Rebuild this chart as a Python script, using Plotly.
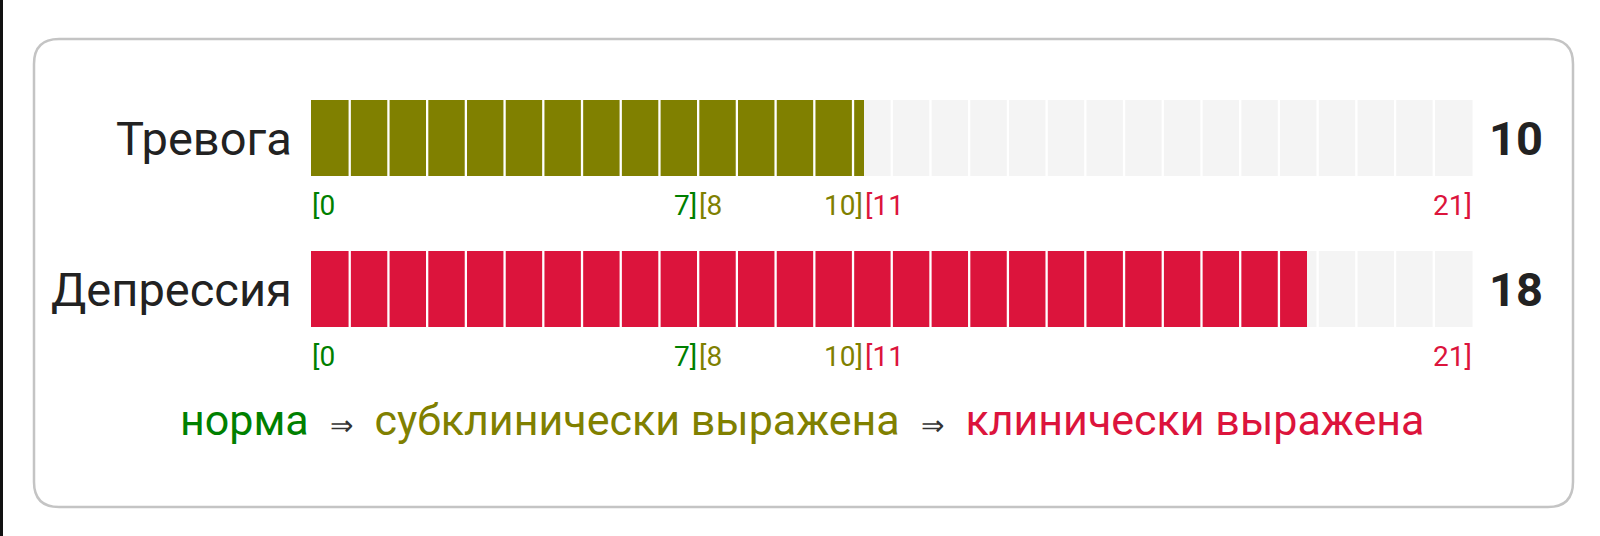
import plotly.graph_objects as go

# ---- data ----
categories = ["Тревога", "Депрессия"]
scores = [10, 18]
max_score = 21
n_cells = 30
bar_colors = ["#808000", "#DC143C"]

range_lo = [0, 8, 11]
range_hi = [7, 10, 21]
range_colors = ["#008000", "#808000", "#DC143C"]
legend_labels = ["норма", "субклинически выражена", "клинически выражена"]

# ---- layout constants (pixels) ----
W, H = 1600, 536
x0_px, x1_px = 311, 1472.5
row_px = [138, 289]
bar_px = 76
FONT = "Roboto"

unit = row_px[1] - row_px[0]
y_top = -row_px[0] / unit
y_bot = 1 + (H - row_px[1]) / unit
bw = bar_px / unit

fig = go.Figure()
rows = list(range(len(categories)))

# background track
fig.add_trace(go.Bar(
    y=rows, x=[max_score] * len(rows), base=0, orientation="h", width=bw,
    marker=dict(color="#f4f4f4", line=dict(width=0)), hoverinfo="skip", showlegend=False))
# filled score
fig.add_trace(go.Bar(
    y=rows, x=scores, base=0, orientation="h", width=bw,
    marker=dict(color=bar_colors, line=dict(width=0)), hoverinfo="skip", showlegend=False))

# cell separators
step = max_score / n_cells
sx, sy = [], []
for r in rows:
    for k in range(1, n_cells):
        sx += [k * step, k * step, None]
        sy += [r - bw / 2, r + bw / 2, None]
fig.add_trace(go.Scatter(x=sx, y=sy, mode="lines", line=dict(color="white", width=2.3),
                         hoverinfo="skip", showlegend=False))

ann = []
for r, (cat, sc) in enumerate(zip(categories, scores)):
    ann.append(dict(x=0, y=r, xref="x", yref="y", text=cat, showarrow=False,
                    xanchor="right", yanchor="middle", xshift=-17,
                    font=dict(family=FONT, size=47, color="#222222")))
    ann.append(dict(x=max_score, y=r, xref="x", yref="y", text=f"<b>{sc}</b>", showarrow=False,
                    xanchor="left", yanchor="middle", xshift=14,
                    font=dict(family=FONT, size=47, color="#222222")))
    prev = 0
    for lo, hi, col in zip(range_lo, range_hi, range_colors):
        ann.append(dict(x=prev, y=r, xref="x", yref="y", text=f"[{lo}", showarrow=False,
                        xanchor="left", yanchor="middle", yshift=-67, xshift=-1,
                        font=dict(family=FONT, size=28, color=col)))
        ann.append(dict(x=hi, y=r, xref="x", yref="y", text=f"{hi}]", showarrow=False,
                        xanchor="right", yanchor="middle", yshift=-67, xshift=1,
                        font=dict(family=FONT, size=28, color=col)))
        prev = hi

arrow = '\u00a0 <span style="font-size:28px;color:#333333">\u21d2</span>\u00a0 '
legend_text = arrow.join(
    f'<span style="color:{c}">{t}</span>' for t, c in zip(legend_labels, range_colors))
ann.append(dict(x=802 / W, y=1 - 420 / H, xref="paper", yref="paper", text=legend_text,
                showarrow=False, xanchor="center", yanchor="middle",
                font=dict(family=FONT, size=43, color="#222222")))

# rounded frame
bx0, by0, bx1, by1, rad = 34, 39, 1573, 507, 25
def px(x):
    return x / W
def py(y):
    return 1 - y / H
path = (f"M {px(bx0+rad)},{py(by0)} L {px(bx1-rad)},{py(by0)} "
        f"Q {px(bx1)},{py(by0)} {px(bx1)},{py(by0+rad)} "
        f"L {px(bx1)},{py(by1-rad)} Q {px(bx1)},{py(by1)} {px(bx1-rad)},{py(by1)} "
        f"L {px(bx0+rad)},{py(by1)} Q {px(bx0)},{py(by1)} {px(bx0)},{py(by1-rad)} "
        f"L {px(bx0)},{py(by0+rad)} Q {px(bx0)},{py(by0)} {px(bx0+rad)},{py(by0)} Z")
shapes = [
    dict(type="path", xref="paper", yref="paper", path=path,
         line=dict(color="#c4c4c4", width=2.5), fillcolor="rgba(0,0,0,0)", layer="below"),
    dict(type="rect", xref="paper", yref="paper", x0=0, x1=3 / W, y0=0, y1=1,
         fillcolor="#111111", line=dict(width=0), layer="above"),
]

fig.update_layout(
    width=W, height=H, margin=dict(l=0, r=0, t=0, b=0, pad=0),
    paper_bgcolor="white", plot_bgcolor="white", barmode="overlay", bargap=0,
    xaxis=dict(range=[0, max_score], domain=[x0_px / W, x1_px / W], visible=False, fixedrange=True),
    yaxis=dict(range=[y_bot, y_top], domain=[0, 1], visible=False, fixedrange=True),
    annotations=ann, shapes=shapes, showlegend=False,
)

fig.write_html("out.html", config={"displayModeBar": False},
               post_script="document.body.style.margin='0';document.body.style.overflow='hidden';")
